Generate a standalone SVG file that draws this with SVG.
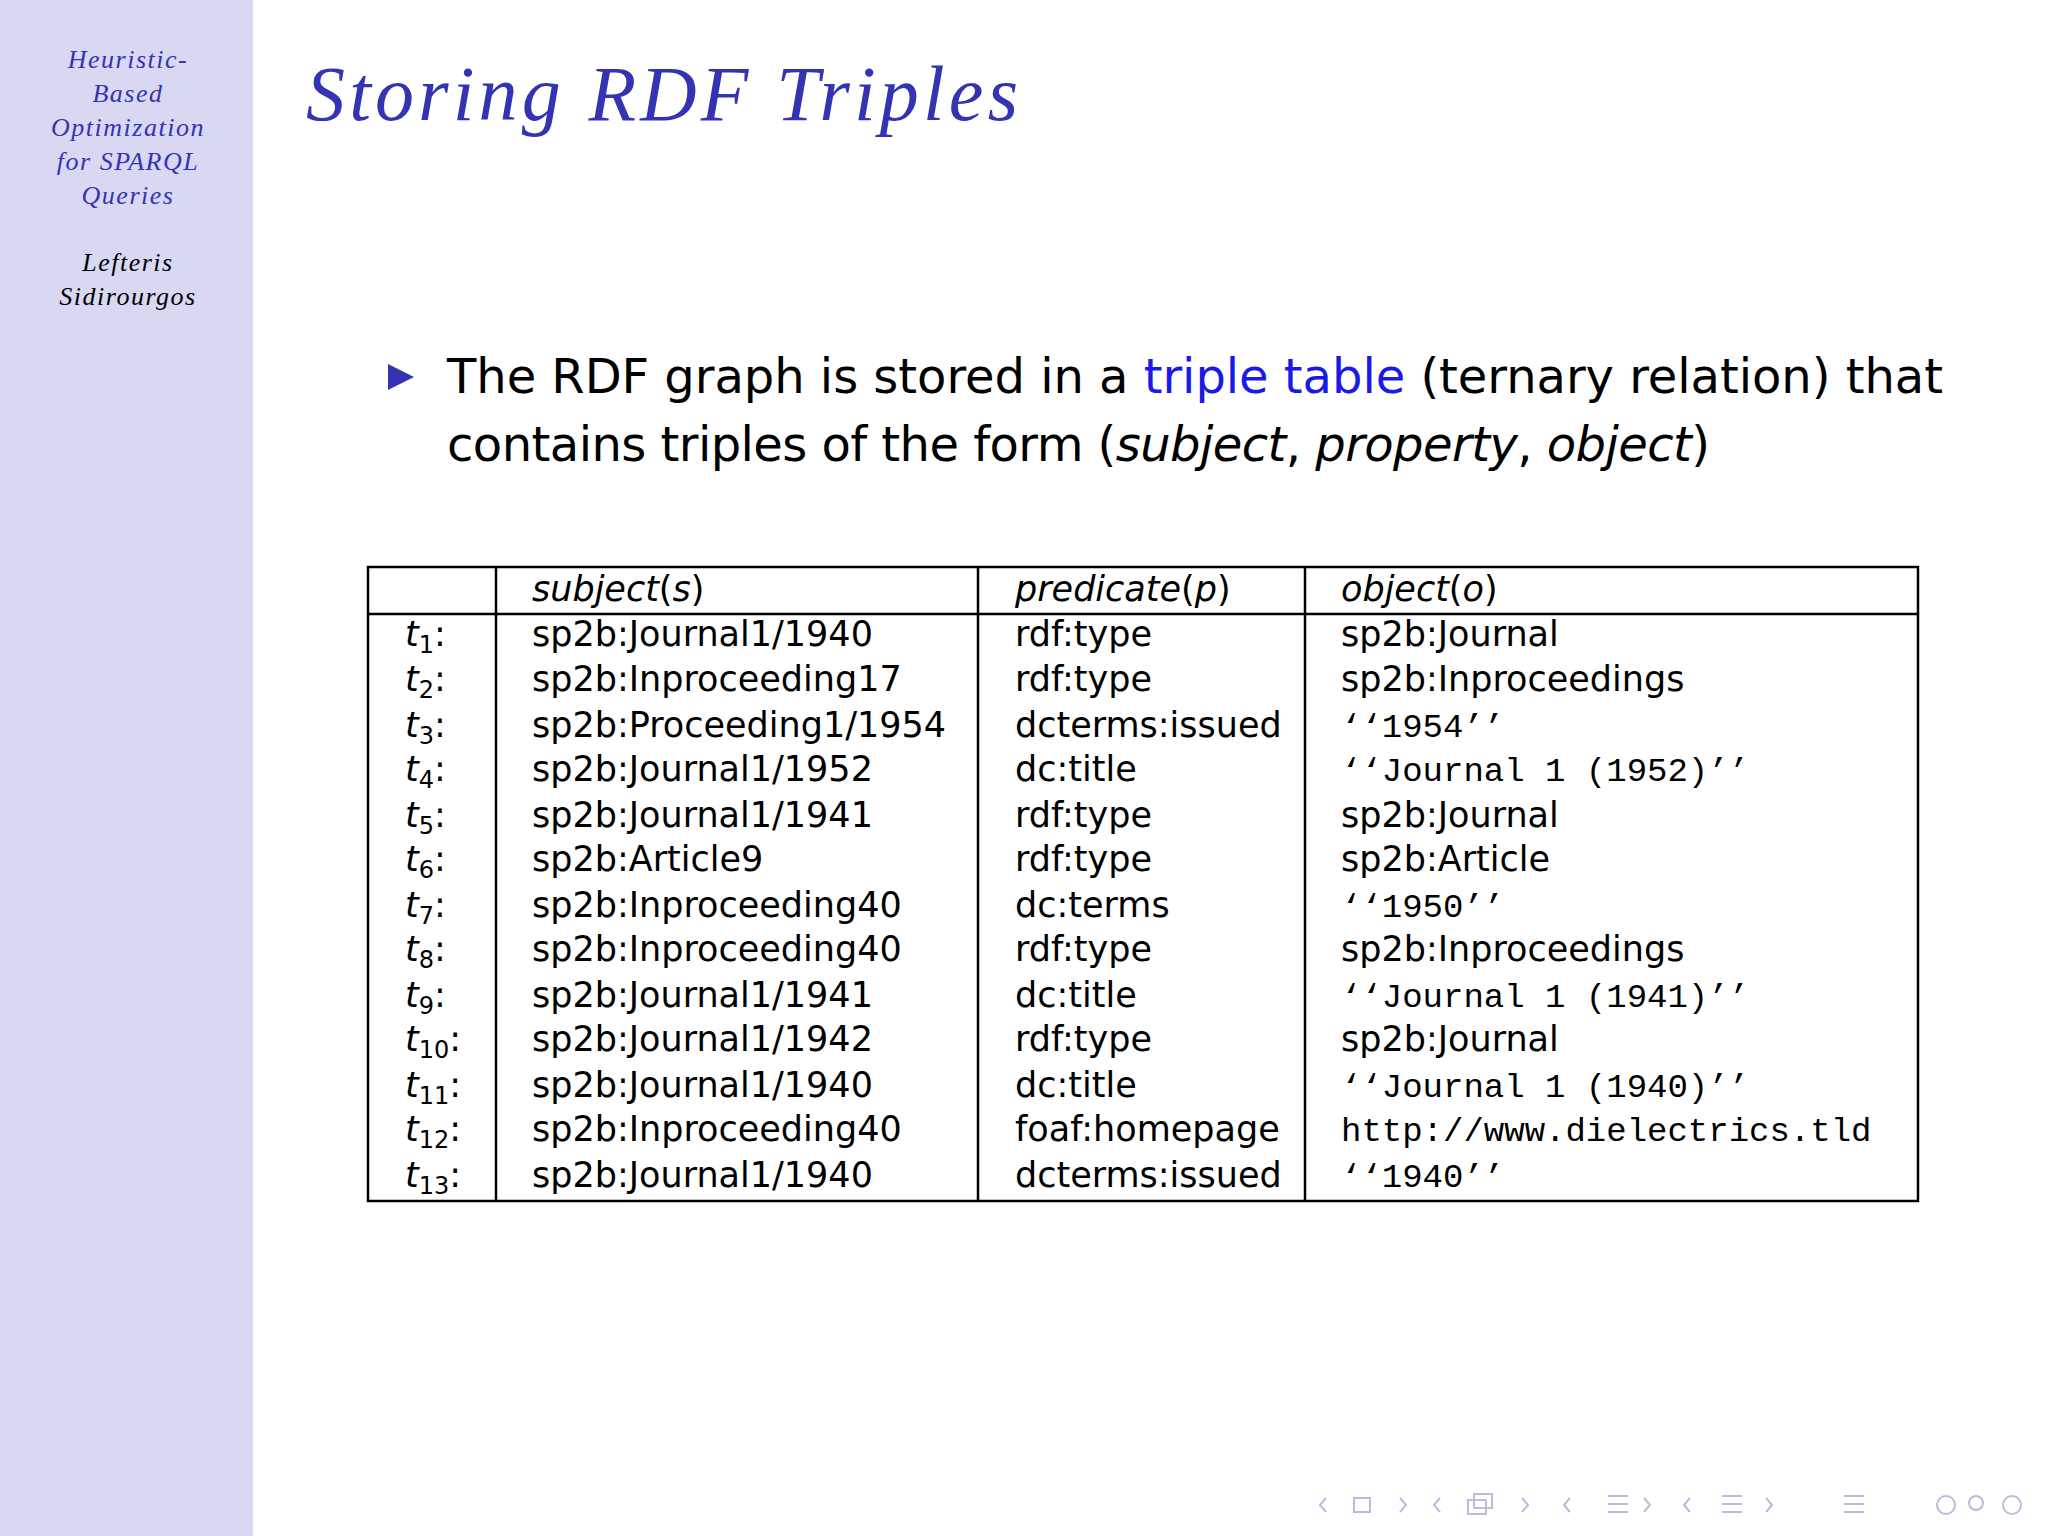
<svg xmlns="http://www.w3.org/2000/svg" width="2048" height="1536" viewBox="0 0 2048 1536">
<style>
.side{font-family:"Liberation Serif",serif;font-style:italic;font-size:26px;fill:#3333b3;text-anchor:middle;letter-spacing:1.5px}
.auth{fill:#000}
.body{font-family:"DejaVu Sans","Liberation Sans",sans-serif;font-size:48px;fill:#000}
.tb{font-family:"DejaVu Sans","Liberation Sans",sans-serif;font-size:35px;fill:#000}
.it{font-style:italic}
.mono{font-family:"Liberation Mono","DejaVu Sans Mono",monospace;font-size:34px}
.sub{font-size:24px}
.grid{stroke:#000;stroke-width:2.5;fill:none}
.nav{fill:none;stroke:#bbbbdd;stroke-width:2}
</style>
<rect x="0" y="0" width="2048" height="1536" fill="#fff"/>
<rect x="0" y="0" width="253" height="1536" fill="#d8d8f2"/>
<g id="sidebar">
<text class="side" x="128" y="68">Heuristic-</text>
<text class="side" x="128" y="102">Based</text>
<text class="side" x="128" y="136">Optimization</text>
<text class="side" x="128" y="170">for SPARQL</text>
<text class="side" x="128" y="204">Queries</text>
<text class="side auth" x="128" y="271">Lefteris</text>
<text class="side auth" x="128" y="305">Sidirourgos</text>
</g>
<g id="title"><text x="306" y="120" font-family="Liberation Serif,serif" font-style="italic" font-size="78" fill="#3333b3" textLength="712">Storing RDF Triples</text></g>
<g id="bullet">
<polygon points="388,364 414,377 388,390" fill="#3333b3"/>
<text class="body" x="447" y="393" textLength="1496">The RDF graph is stored in a <tspan fill="#1a1ae6">triple table</tspan> (ternary relation) that</text>
<text class="body" x="447" y="461" textLength="1263">contains triples of the form (<tspan class="it">subject</tspan>, <tspan class="it">property</tspan>, <tspan class="it">object</tspan>)</text>
</g>
<g id="table">
<rect class="grid" x="368" y="567" width="1550" height="634"/>
<line class="grid" x1="368" y1="614" x2="1918" y2="614"/>
<line class="grid" x1="496" y1="567" x2="496" y2="1201"/>
<line class="grid" x1="978" y1="567" x2="978" y2="1201"/>
<line class="grid" x1="1305" y1="567" x2="1305" y2="1201"/>
<g class="tb">
<text x="532" y="601"><tspan class="it">subject</tspan>(<tspan class="it">s</tspan>)</text>
<text x="1015" y="601"><tspan class="it">predicate</tspan>(<tspan class="it">p</tspan>)</text>
<text x="1341" y="601"><tspan class="it">object</tspan>(<tspan class="it">o</tspan>)</text>
<text x="405" y="646"><tspan class="it">t</tspan><tspan class="sub" dy="7">1</tspan><tspan dy="-7">:</tspan></text>
<text x="405" y="691"><tspan class="it">t</tspan><tspan class="sub" dy="7">2</tspan><tspan dy="-7">:</tspan></text>
<text x="405" y="737"><tspan class="it">t</tspan><tspan class="sub" dy="7">3</tspan><tspan dy="-7">:</tspan></text>
<text x="405" y="781"><tspan class="it">t</tspan><tspan class="sub" dy="7">4</tspan><tspan dy="-7">:</tspan></text>
<text x="405" y="827"><tspan class="it">t</tspan><tspan class="sub" dy="7">5</tspan><tspan dy="-7">:</tspan></text>
<text x="405" y="871"><tspan class="it">t</tspan><tspan class="sub" dy="7">6</tspan><tspan dy="-7">:</tspan></text>
<text x="405" y="917"><tspan class="it">t</tspan><tspan class="sub" dy="7">7</tspan><tspan dy="-7">:</tspan></text>
<text x="405" y="961"><tspan class="it">t</tspan><tspan class="sub" dy="7">8</tspan><tspan dy="-7">:</tspan></text>
<text x="405" y="1007"><tspan class="it">t</tspan><tspan class="sub" dy="7">9</tspan><tspan dy="-7">:</tspan></text>
<text x="405" y="1051"><tspan class="it">t</tspan><tspan class="sub" dy="7">10</tspan><tspan dy="-7">:</tspan></text>
<text x="405" y="1097"><tspan class="it">t</tspan><tspan class="sub" dy="7">11</tspan><tspan dy="-7">:</tspan></text>
<text x="405" y="1141"><tspan class="it">t</tspan><tspan class="sub" dy="7">12</tspan><tspan dy="-7">:</tspan></text>
<text x="405" y="1187"><tspan class="it">t</tspan><tspan class="sub" dy="7">13</tspan><tspan dy="-7">:</tspan></text>
<text x="532" y="646">sp2b:Journal1/1940</text>
<text x="532" y="691">sp2b:Inproceeding17</text>
<text x="532" y="737">sp2b:Proceeding1/1954</text>
<text x="532" y="781">sp2b:Journal1/1952</text>
<text x="532" y="827">sp2b:Journal1/1941</text>
<text x="532" y="871">sp2b:Article9</text>
<text x="532" y="917">sp2b:Inproceeding40</text>
<text x="532" y="961">sp2b:Inproceeding40</text>
<text x="532" y="1007">sp2b:Journal1/1941</text>
<text x="532" y="1051">sp2b:Journal1/1942</text>
<text x="532" y="1097">sp2b:Journal1/1940</text>
<text x="532" y="1141">sp2b:Inproceeding40</text>
<text x="532" y="1187">sp2b:Journal1/1940</text>
<text x="1015" y="646">rdf:type</text>
<text x="1015" y="691">rdf:type</text>
<text x="1015" y="737">dcterms:issued</text>
<text x="1015" y="781">dc:title</text>
<text x="1015" y="827">rdf:type</text>
<text x="1015" y="871">rdf:type</text>
<text x="1015" y="917">dc:terms</text>
<text x="1015" y="961">rdf:type</text>
<text x="1015" y="1007">dc:title</text>
<text x="1015" y="1051">rdf:type</text>
<text x="1015" y="1097">dc:title</text>
<text x="1015" y="1141">foaf:homepage</text>
<text x="1015" y="1187">dcterms:issued</text>
<text x="1341" y="646">sp2b:Journal</text>
<text x="1341" y="691">sp2b:Inproceedings</text>
<text x="1341" y="737" class="mono">‘‘1954’’</text>
<text x="1341" y="781" class="mono">‘‘Journal 1 (1952)’’</text>
<text x="1341" y="827">sp2b:Journal</text>
<text x="1341" y="871">sp2b:Article</text>
<text x="1341" y="917" class="mono">‘‘1950’’</text>
<text x="1341" y="961">sp2b:Inproceedings</text>
<text x="1341" y="1007" class="mono">‘‘Journal 1 (1941)’’</text>
<text x="1341" y="1051">sp2b:Journal</text>
<text x="1341" y="1097" class="mono">‘‘Journal  1  (1940)’’</text>
<text x="1341" y="1141" class="mono">http://www.dielectrics.tld</text>
<text x="1341" y="1187" class="mono">‘‘1940’’</text>
</g>
</g>
<g id="nav">
<rect class="nav" x="1354" y="1498" width="16" height="14"/>
<rect class="nav" x="1474" y="1494" width="18" height="14"/>
<rect class="nav" x="1468" y="1500" width="18" height="14"/>
<path class="nav" d="M1608 1496h20M1608 1504h20M1608 1512h20M1722 1496h20M1722 1504h20M1722 1512h20M1844 1496h20M1844 1504h20M1844 1512h20"/>
<path class="nav" d="M1326 1498l-6 7 6 7M1400 1498l6 7-6 7M1440 1498l-6 7 6 7M1522 1498l6 7-6 7M1570 1498l-6 7 6 7M1644 1498l6 7-6 7M1690 1498l-6 7 6 7M1766 1498l6 7-6 7"/>
<circle class="nav" cx="1946" cy="1505" r="9"/><circle class="nav" cx="1976" cy="1503" r="7"/><circle class="nav" cx="2012" cy="1505" r="9"/>
</g>
</svg>
